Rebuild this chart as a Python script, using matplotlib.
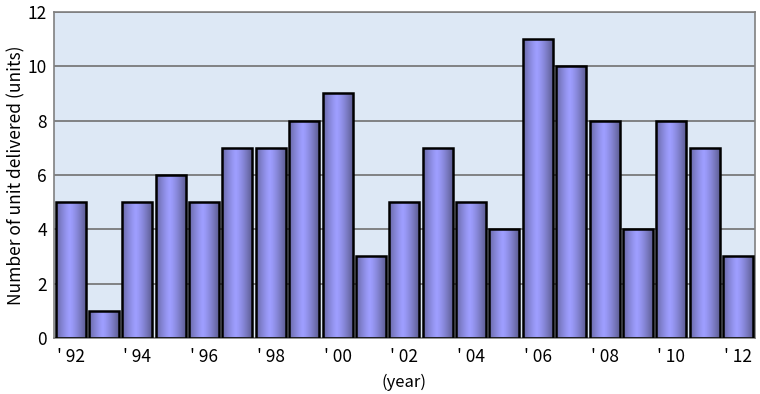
import matplotlib.pyplot as plt
import numpy as np

years = [f"'{y % 100:02d}" for y in range(1992, 2013)]
units = [5, 1, 5, 6, 5, 7, 7, 8, 9, 3, 5, 7, 5, 4, 11, 10, 8, 4, 8, 7, 3]
tick_labels = ["' 92", "' 94", "' 96", "' 98", "' 00", "' 02", "' 04", "' 06", "' 08", "' 10", "' 12"]

plt.rcParams['font.family'] = ['Noto Sans CJK JP', 'DejaVu Sans']

fig = plt.figure(figsize=(7.6, 3.94), dpi=100)
ax = fig.add_axes([0.071, 0.142, 0.922, 0.828])
ax.set_facecolor("#dde8f5")

x = np.arange(len(units))
bars = ax.bar(x, units, width=0.9, color="none", edgecolor="black", linewidth=1.8, zorder=3)

# horizontal shading for each bar: dark edges, light middle
t = np.linspace(0, 1, 64)
shade = 1 - 0.45 * np.abs(t - 0.45) ** 1.3 * 2.2
base = np.array([0.60, 0.60, 1.0])
grad = np.clip(base[None, :] * shade[:, None] + np.array([0.02, 0.02, 0.0]), 0, 1)
grad = grad[None, :, :]
for b in bars:
    im = ax.imshow(grad, extent=(b.get_x(), b.get_x() + b.get_width(), 0, b.get_height()),
                   aspect="auto", zorder=2, interpolation="bilinear")
    im.set_clip_path(b)

ax.set_xlim(-0.5, len(units) - 0.5)
ax.set_ylim(0, 12)
ax.set_yticks(range(0, 13, 2))
ax.set_xticks(x[::2])
ax.set_xticklabels(tick_labels)
ax.yaxis.grid(True, color="#707070", linewidth=1.2, zorder=1)
ax.tick_params(axis="both", labelsize=12.5, length=0, pad=5)
ax.tick_params(axis="x", pad=7)
for s in ax.spines.values():
    s.set_color("#808080")
    s.set_linewidth(1.2)

ax.set_ylabel("Number of unit delivered (units)", fontsize=12.5, labelpad=2)
ax.set_xlabel("(year)", fontsize=12, labelpad=6)

fig.savefig("out.png", dpi=100)
